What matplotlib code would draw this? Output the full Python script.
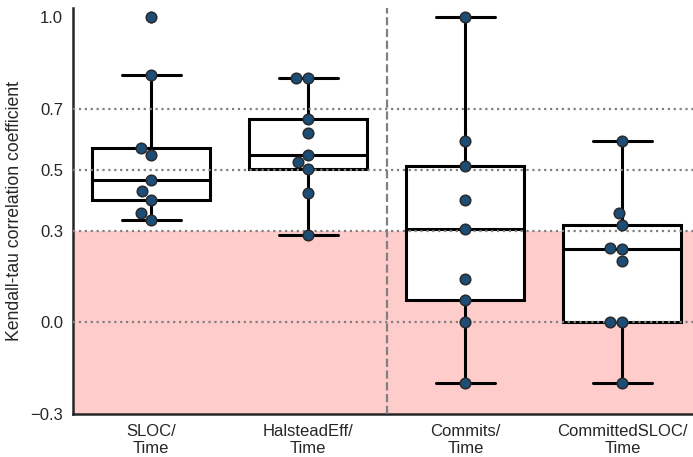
import numpy as np
import pandas as pd
import matplotlib
matplotlib.use("Agg")
import matplotlib.pyplot as plt
import seaborn as sns

# Kendall-tau values per metric pair
labels = ["SLOC/\nTime", "HalsteadEff/\nTime", "Commits/\nTime", "CommittedSLOC/\nTime"]
sloc_time = [0.334, 0.358, 0.401, 0.429, 0.467, 0.549, 0.571, 0.811, 1.0]
halstead_time = [0.285, 0.423, 0.503, 0.524, 0.549, 0.620, 0.667, 0.80, 0.80]
commits_time = [-0.2, 0.0, 0.072, 0.143, 0.307, 0.401, 0.512, 0.593, 1.0]
csloc_time = [-0.2, 0.0, 0.0, 0.200, 0.241, 0.244, 0.320, 0.358, 0.593]

yticks = [-0.3, 0.0, 0.3, 0.5, 0.7, 1.0]
ref_lines = [0.0, 0.3, 0.5, 0.7]
weak_band = (-0.3, 0.3)

series = [sloc_time, halstead_time, commits_time, csloc_time]
df = pd.DataFrame({
    "group": np.repeat(np.arange(len(series)), [len(s) for s in series]),
    "tau": np.concatenate(series),
})

sns.set_style("white")
plt.rcParams["font.family"] = ["Liberation Sans", "DejaVu Sans"]
plt.rcParams["text.color"] = ".15"
plt.rcParams["axes.labelcolor"] = ".15"
plt.rcParams["xtick.color"] = ".15"
plt.rcParams["ytick.color"] = ".15"

fig = plt.figure(figsize=(6.93, 4.57), dpi=100)
ax = fig.add_axes([0.105, 0.094, 0.895, 0.889])

ax.axhspan(*weak_band, color="#ffcccc", zorder=0, lw=0)

lw = 2.2
ax.boxplot(series, positions=range(len(series)), widths=0.75, whis=1.5,
           patch_artist=True,
           boxprops=dict(facecolor="white", edgecolor="black", linewidth=lw),
           medianprops=dict(color="black", linewidth=lw),
           whiskerprops=dict(color="black", linewidth=lw),
           capprops=dict(color="black", linewidth=lw),
           flierprops=dict(marker="d", markerfacecolor="gray", markeredgecolor="gray",
                           markersize=6),
           zorder=2)

for v in ref_lines:
    ax.axhline(v, color="gray", linestyle=":", linewidth=1.6, zorder=3)
ax.axvline(1.5, color="gray", linestyle="--", linewidth=1.6, zorder=3)

sns.swarmplot(data=df, x="group", y="tau", ax=ax, color="#1c4d77", size=7.6,
              edgecolor="#2a2a2a", linewidth=1.1, zorder=4, native_scale=True)

ax.set_xlim(-0.5, 3.45)
ax.set_ylim(-0.3, 1.03)
ax.set_xticks(range(len(labels)))
ax.set_xticklabels(labels, fontsize=12)
ax.set_yticks(yticks)
ax.set_yticklabels([f"{t:.1f}".replace("-", "\u2212") for t in yticks], fontsize=12)
ax.set_xlabel("")
ax.set_ylabel("Kendall-tau correlation coefficient", fontsize=12.7, labelpad=5)

for side in ["top", "right"]:
    ax.spines[side].set_visible(False)
for side in ["left", "bottom"]:
    ax.spines[side].set_color(".15")
    ax.spines[side].set_linewidth(1.8)

fig.savefig("out.png", dpi=100)
